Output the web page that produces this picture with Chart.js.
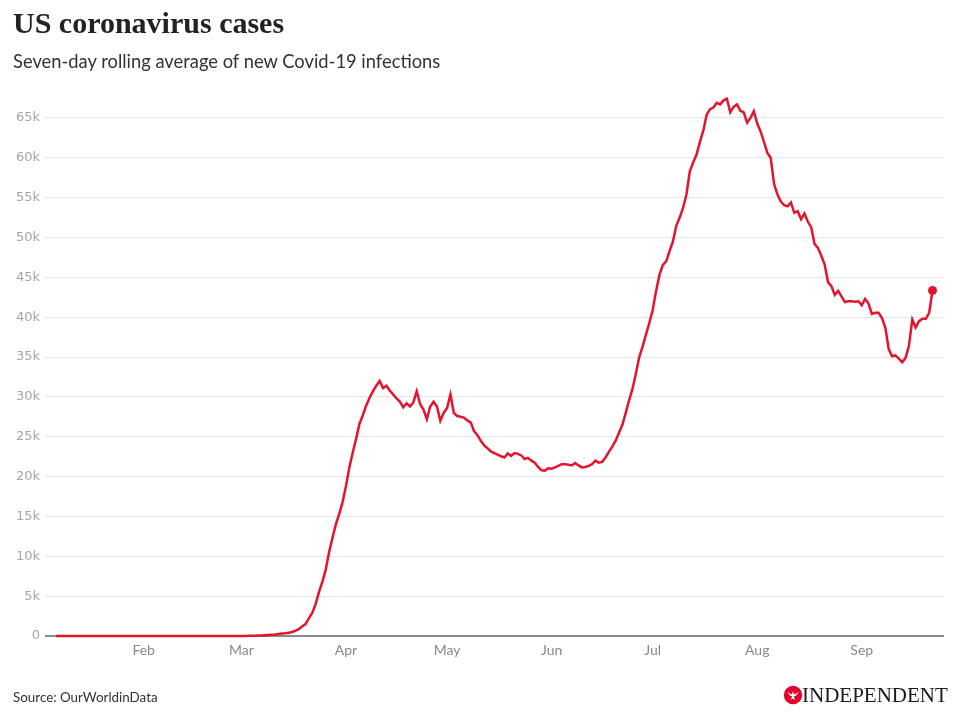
<!DOCTYPE html>
<html>
<head>
<meta charset="utf-8">
<script src="https://cdn.jsdelivr.net/npm/chart.js@4.4.0/dist/chart.umd.min.js"></script>
<style>
  html, body { margin: 0; padding: 0; background: #fff; }
  #wrap { position: relative; width: 960px; height: 726px; overflow: hidden; }
  #c { position: absolute; left: 0; top: 0; }
  .t { position: absolute; white-space: nowrap; margin: 0; }
  #title { left: 13px; top: 8px; font: bold 30px/30px "Liberation Serif", serif; color: #222; }
  #subtitle { left: 13px; top: 50px; font: 18.35px/22px Lato, sans-serif; color: #333; }
  #source { left: 13px; top: 688.5px; font: 13.4px/16px Lato, sans-serif; color: #333; }
  #brand { left: 802px; top: 684px; font: 21px/23.25px "Liberation Serif", serif; color: #1a1a1a; }
  #logo { position: absolute; left: 783px; top: 685px; }
</style>
</head>
<body>
<div id="wrap">
  <canvas id="c" width="960" height="726"></canvas>
  <div class="t" id="title">US coronavirus cases</div>
  <div class="t" id="subtitle">Seven-day rolling average of new Covid-19 infections</div>
  <div class="t" id="source">Source: OurWorldinData</div>
  <svg id="logo" width="20" height="20" viewBox="0 0 20 20">
    <circle cx="10" cy="10" r="9.2" fill="#e4002b"/>
    <path d="M4 7 L9 9.5 L10 6 L11 9.5 L16 7 L12.5 11 L11 11 L12 15 L10 13.5 L8 15 L9 11 L7.5 11 Z" fill="#fff"/>
  </svg>
  <div class="t" id="brand">INDEPENDENT</div>
</div>
<script>
// First day of the series (day index counted from 1 Jan 2020 = 0)
const startDay = 5; // 6 Jan 2020
// Seven-day rolling average of new cases, one value per day from 6 Jan to 22 Sep 2020
const dailyCases = [
  0,0,0,0,0,0,0,0,0,0,0,
  0,0,0,0,0,0,0,0,0,0,0,
  0,0,0,0,0,0,0,0,0,0,0,
  0,0,0,0,0,0,0,0,0,0,0,
  0,0,0,0,0,0,0,0,0,0,0,
  10,12,20,30,40,55,75,100,130,165,
  200,250,300,350,420,500,650,850,1200,1500,
  2200,2900,4000,5500,6800,8300,10500,12300,14000,15300,
  16800,18800,21100,23000,24700,26600,27700,28900,29900,30700,
  31400,32000,31100,31400,30800,30300,29800,29400,28700,29200,
  28800,29300,30700,29100,28400,27200,28800,29400,28800,27000,
  28000,28600,30300,28000,27600,27500,27400,27050,26800,25700,
  25200,24500,23900,23550,23150,22950,22750,22550,22400,22900,
  22600,22950,22850,22650,22200,22350,22000,21750,21200,20800,
  20750,21050,21000,21150,21350,21550,21550,21500,21400,21700,
  21400,21150,21200,21350,21550,22000,21750,21850,22400,23100,
  23750,24500,25500,26500,28000,29600,31000,32900,35000,36300,
  37800,39300,40900,43300,45300,46550,47000,48300,49500,51500,
  52500,53700,55400,58300,59400,60400,62000,63400,65400,66100,
  66300,66900,66700,67200,67400,65700,66400,66700,65900,65700,
  64400,65000,65850,64300,63300,62000,60600,60000,56700,55400,
  54500,54050,53900,54400,53100,53300,52300,53000,52000,51300,
  49200,48700,47700,46600,44400,43900,42800,43300,42600,41900,
  42000,42000,41950,42000,41500,42300,41700,40400,40550,40550,
  39900,38700,36000,35100,35200,34800,34350,34900,36400,39700,
  38700,39500,39800,39800,40550,43350
];
// Month tick positions (day index of the 1st of each month) and their labels
const monthStarts = [31, 60, 91, 121, 152, 182, 213, 244];
const monthLabels = ['Feb', 'Mar', 'Apr', 'May', 'Jun', 'Jul', 'Aug', 'Sep'];
// Y-axis ticks and labels
const yTicks = [0, 5000, 10000, 15000, 20000, 25000, 30000, 35000, 40000, 45000, 50000, 55000, 60000, 65000];
const yTickLabels = ['0', '5k', '10k', '15k', '20k', '25k', '30k', '35k', '40k', '45k', '50k', '55k', '60k', '65k'];

const points = dailyCases.map((v, i) => ({ x: startDay + i, y: v }));
const lastIdx = points.length - 1;
const RED = '#e5142e';

new Chart(document.getElementById('c'), {
  type: 'line',
  data: {
    datasets: [{
      data: points,
      borderColor: RED,
      borderWidth: 2.5,
      backgroundColor: RED,
      pointRadius: points.map((_, i) => i === lastIdx ? 4.5 : 0),
      pointBackgroundColor: RED,
      pointBorderWidth: 0,
      tension: 0,
      fill: false,
      clip: false
    }]
  },
  options: {
    responsive: false,
    animation: false,
    devicePixelRatio: 1,
    layout: { padding: { left: 0, right: 16, top: 94, bottom: 60 } },
    plugins: { legend: { display: false }, tooltip: { enabled: false }, title: { display: false } },
    scales: {
      x: {
        type: 'linear',
        min: 5,
        max: 268.4,
        grid: { display: false, drawTicks: false },
        border: { display: false },
        afterBuildTicks: s => { s.ticks = monthStarts.map(v => ({ value: v })); },
        afterFit: s => { s.height = 30; },
        ticks: {
          autoSkip: false,
          maxRotation: 0,
          padding: 6,
          color: '#888',
          font: { family: 'Lato', size: 14 },
          callback: v => monthLabels[monthStarts.indexOf(v)]
        }
      },
      y: {
        min: 0,
        max: 68000,
        afterBuildTicks: s => { s.ticks = yTicks.map(v => ({ value: v })); },
        afterFit: s => { s.width = 56; },
        border: { display: false },
        grid: {
          drawTicks: true,
          tickLength: 11,
          color: c => (c.tick && c.tick.value === 0) ? '#8a8a8a' : '#e6e6e6',
          lineWidth: c => (c.tick && c.tick.value === 0) ? 2 : 1
        },
        ticks: {
          padding: 5,
          color: '#a6a6a6',
          font: { family: 'DejaVu Sans', size: 13 },
          callback: v => yTickLabels[yTicks.indexOf(v)]
        }
      }
    }
  }
});
</script>
</body>
</html>
